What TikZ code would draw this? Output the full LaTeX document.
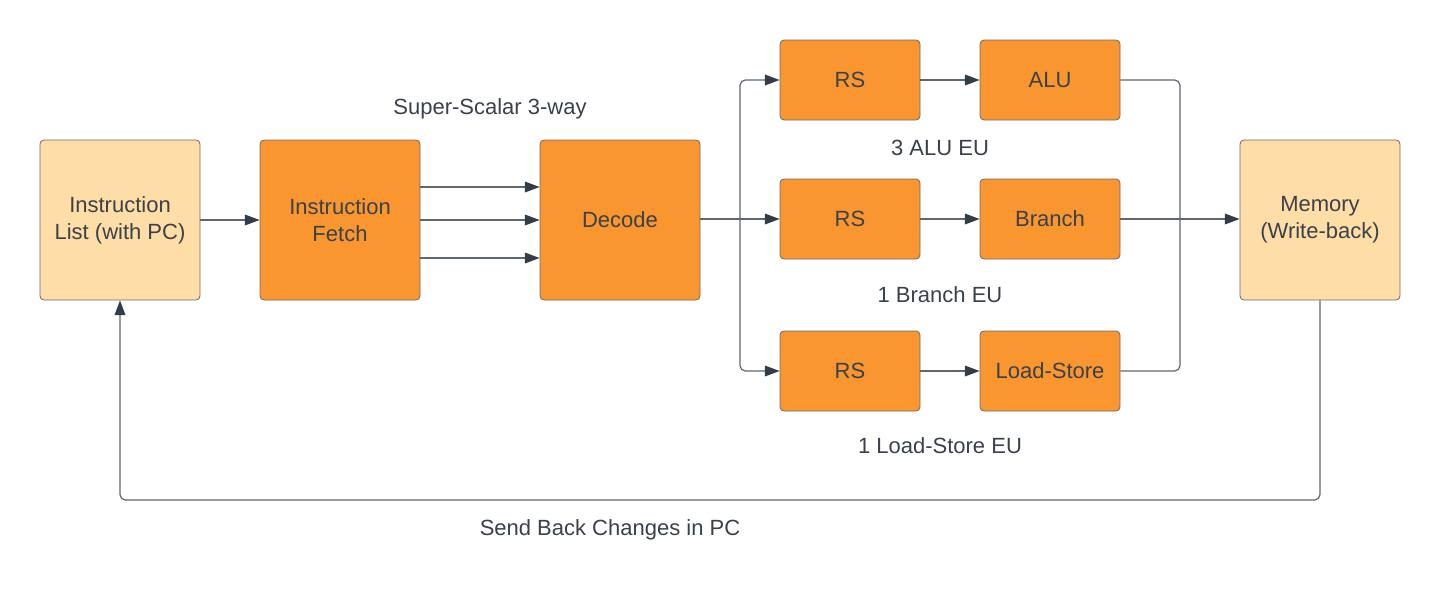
\documentclass[tikz,border=0pt]{standalone}
\usepackage{fontspec}
\setmainfont{Liberation Sans}
\usetikzlibrary{arrows.meta}

\definecolor{boxorange}{HTML}{F9962F}
\definecolor{boxlight}{HTML}{FFDDA6}
\definecolor{boxedge}{HTML}{6B6B6B}
\definecolor{wire}{HTML}{5F6670}
\definecolor{tip}{HTML}{333D47}
\definecolor{txt}{HTML}{3A414A}

\tikzset{every picture/.style={line width=0.75pt}}
\tikzset{
  stage/.style={draw=boxedge, line width=0.6pt, fill=boxorange, rounded corners=3pt,
    minimum width=120pt, minimum height=120pt, align=center, text=txt,
    font=\fontsize{16.5}{20}\selectfont},
  memstage/.style={stage, fill=boxlight},
  unit/.style={stage, minimum width=105pt, minimum height=60pt},
  caption/.style={text=txt, font=\fontsize{16.5}{20}\selectfont},
  link/.style={draw=wire, line width=0.9pt, rounded corners=4pt,
    -{Triangle[length=11pt,width=8pt,color=tip]}},
  wirel/.style={draw=wire, line width=0.9pt, rounded corners=4pt}
}

\begin{document}
\begin{tikzpicture}[x=0.75pt,y=0.75pt,yscale=-1,xscale=1]
\useasboundingbox (0,0) rectangle (1440,603);

% Stages
\node[memstage] (list) at (120,220) {Instruction\\List (with PC)};
\node[stage] (fetch) at (340,220) {Instruction\\Fetch};
\node[stage] (decode) at (620,220) {Decode};
\node[memstage] (mem) at (1320,220) {Memory\\(Write-back)};

% Execution units
\node[unit] (rsalu) at (850,80) {RS};
\node[unit] (alu) at (1050,80) {ALU};
\node[unit] (rsbr) at (850,219) {RS};
\node[unit] (branch) at (1050,219) {Branch};
\node[unit] (rsls) at (850,371) {RS};
\node[unit] (ldst) at (1050,371) {Load-Store};

% Captions
\node[caption] (sslabel) at (490,109) {Super-Scalar 3-way};
\node[caption] (alulabel) at (940,148) {3 ALU EU};
\node[caption] (brlabel) at (940,295) {1 Branch EU};
\node[caption] (lslabel) at (940,446) {1 Load-Store EU};
\node[caption] (pclabel) at (610,530) {Send Back Changes in PC};

% Junctions
\coordinate (split) at (740,219);
\coordinate (merge) at (1180,219);

% Fetch path
\draw[link] (list.east) -- (fetch.west);
\draw[link] (fetch.east |- 0,187) -- (decode.west |- 0,187);
\draw[link] (fetch.east) -- (decode.west);
\draw[link] (fetch.east |- 0,258) -- (decode.west |- 0,258);

% Dispatch
\draw[wirel] (decode.east |- split) -- (split);
\draw[link] (split) |- (rsalu.west);
\draw[link] (split) -- (rsbr.west);
\draw[link] (split) |- (rsls.west);
\draw[link] (rsalu) -- (alu);
\draw[link] (rsbr) -- (branch);
\draw[link] (rsls) -- (ldst);

% Write-back
\draw[wirel] (alu.east) -| (merge);
\draw[wirel] (branch.east) -- (merge);
\draw[wirel] (ldst.east) -| (merge);
\draw[link] (merge) -- (mem.west |- merge);

% Feedback
\draw[link] (mem.south) -- (1320,500) -| (list.south);

\end{tikzpicture}
\end{document}
